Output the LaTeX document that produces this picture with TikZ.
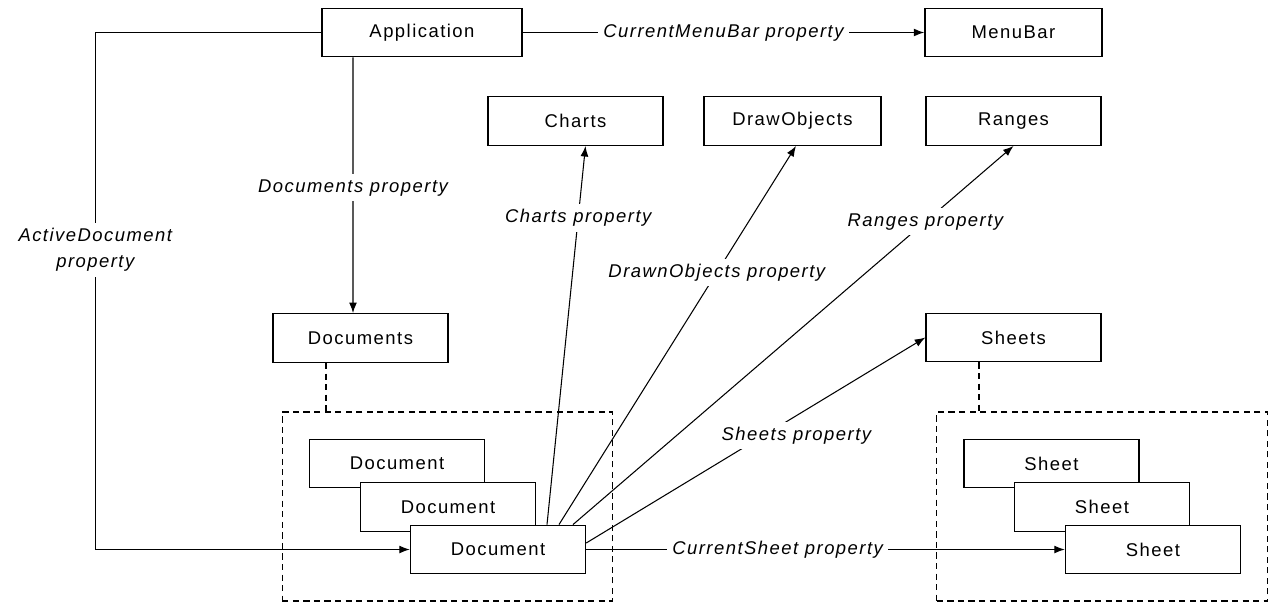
\documentclass[tikz,border=0pt]{standalone}
\usepackage{fontspec}
\setmainfont{Liberation Sans}[LetterSpace=8]
\usetikzlibrary{positioning,arrows.meta,fit}
\tikzstyle{box}=[draw, fill=white, minimum height = 0.97cm, minimum width=3.5cm, line width=0.8pt, font=\fontsize{10.5}{12}\selectfont]
\tikzstyle{appbox}=[box, minimum width=4cm]
\tikzstyle{lbl}=[fill=white, inner sep=3pt, align=center, font=\fontsize{10.5}{15}\selectfont\itshape]
\tikzstyle{grp}=[draw, dash pattern=on 3.5pt off 2.5pt, inner sep=0.53cm, line width=0.7pt]
\tikzstyle{grpline}=[dash pattern=on 3.5pt off 2.5pt, line width=0.7pt]

\begin{document}
\begin{tikzpicture}[node distance=2cm,>={Latex[length=6pt,width=4.5pt]},line width=0.6pt]
\useasboundingbox (0,0) rectangle (25.4,-12.08);

\node[appbox] at (8.44,-0.65) (app) {Application};
\node[box, right of = app, node distance = 11.83cm, minimum width=3.54cm] (menu) {MenuBar};
\node[box, below of = menu, node distance = 1.77cm] (ranges) {Ranges};
\node[box, left of = ranges, node distance = 4.42cm, minimum width=3.54cm] (drawobj) {DrawObjects};
\node[box, left of = drawobj, node distance = 4.34cm] (charts) {Charts};
\node[box, below of = ranges, node distance = 4.33cm] (sheets) {Sheets};
\node[box] at (7.21,-6.76) (docs) {Documents};

% stacked members
\node[box] at (7.94,-9.27) (doc1) {Document};
\node[box, below of = doc1, node distance = 0.87cm, xshift = 1.02cm] (doc2) {Document};
\node[box, below of = doc2, node distance = 0.85cm, xshift = 1cm] (doc3) {Document};
\node[box, right of = doc1, node distance = 13.09cm] (sheet1) {Sheet};
\node[box, below of = sheet1, node distance = 0.87cm, xshift = 1.01cm] (sheet2) {Sheet};
\node[box, below of = sheet2, node distance = 0.85cm, xshift = 1.02cm] (sheet3) {Sheet};

\node[grp, fit=(doc1)(doc3)] (docgrp) {};
\node[grp, fit=(sheet1)(sheet3)] (sheetgrp) {};

\draw[grpline] ([xshift=-0.69cm]docs.south) -- ([xshift=-0.69cm]docs.south |- docgrp.north);
\draw[grpline] ([xshift=-0.69cm]sheets.south) -- ([xshift=-0.69cm]sheets.south |- sheetgrp.north);

\draw[->] (app.east) -- node[lbl, pos=0.5] {CurrentMenuBar property} (menu.west);
\draw[->] ([xshift=-1.38cm]app.south) -- node[lbl, pos=0.51] {Documents property} ([xshift=-0.15cm]docs.north);
\draw[->] (app.west) -- ++(-4.52,0) |- node[lbl, pos=0.21] {ActiveDocument\\property} (doc3.west);

\draw[->] ([xshift=0.98cm]doc3.north) -- node[lbl, pos=0.81] {Charts property} ([xshift=0.2cm]charts.south);
\draw[->] ([xshift=1.22cm]doc3.north) -- node[lbl, pos=0.666] {DrawnObjects property} ([xshift=0.07cm]drawobj.south);
\draw[->] ([xshift=1.5cm]doc3.north) -- node[lbl, pos=0.8] {Ranges property} (ranges.south);
\draw[->] ([yshift=0.13cm]doc3.east) -- node[lbl, pos=0.62, yshift=-0.4cm] {Sheets property} (sheets.west);
\draw[->] (doc3.east) -- node[lbl, pos=0.4] {CurrentSheet property} (sheet3.west);
\end{tikzpicture}
\end{document}
